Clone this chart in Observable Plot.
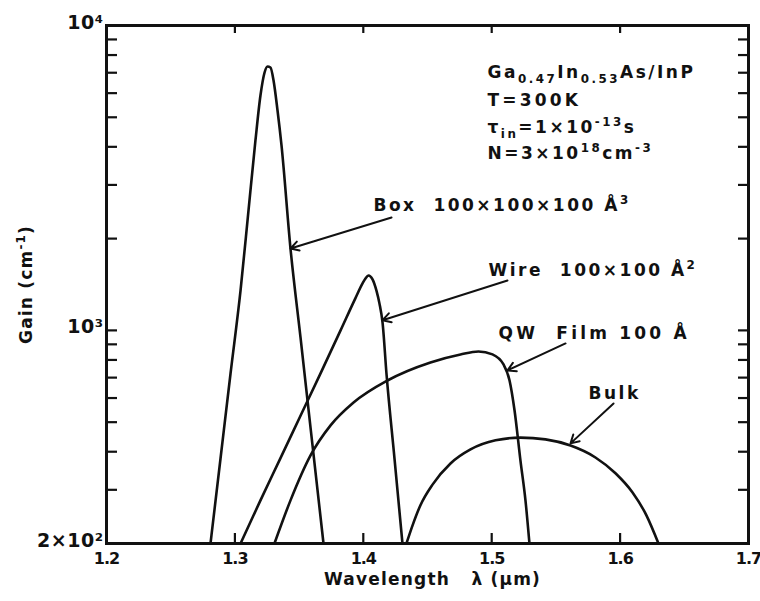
<!DOCTYPE html>
<html><head><meta charset="utf-8">
<script src="https://cdn.jsdelivr.net/npm/d3@7"></script>
<script src="https://cdn.jsdelivr.net/npm/@observablehq/plot@0.6"></script>
<style>
html,body{margin:0;padding:0;background:#fff;}
</style></head><body><div id="chart"></div>
<script>
// ---- data (wavelength in µm, gain in cm^-1) ----
const boxX  = [1.2810, 1.2888, 1.2966, 1.3044, 1.3106, 1.3160, 1.3199, 1.3231, 1.3254, 1.3277, 1.3301, 1.3332, 1.3363, 1.3433, 1.3511, 1.3589, 1.3690];
const boxY  = [200, 380, 722, 1352, 2474, 4196, 5895, 7013, 7337, 7282, 6601, 5262, 4041, 1856, 948, 480, 200];
const wireX = [1.3044, 1.3199, 1.3355, 1.3511, 1.3667, 1.3822, 1.3939, 1.3994, 1.4017, 1.4040, 1.4072, 1.4103, 1.4126, 1.4150, 1.4181, 1.4243, 1.4305];
const wireY = [200, 277, 381, 525, 723, 998, 1276, 1426, 1480, 1514, 1470, 1347, 1224, 1060, 717, 380, 200];
const qwX   = [1.3308, 1.3433, 1.3589, 1.3745, 1.3924, 1.4188, 1.4523, 1.4757, 1.4897, 1.5006, 1.5092, 1.5139, 1.5178, 1.5224, 1.5263, 1.5294];
const qwY   = [200, 277, 389, 488, 580, 685, 785, 834, 853, 834, 773, 685, 546, 374, 277, 200];
const bulkX = [1.4336, 1.4383, 1.4445, 1.4539, 1.4679, 1.4835, 1.5030, 1.5224, 1.5419, 1.5614, 1.5808, 1.5964, 1.6097, 1.6206, 1.6299];
const bulkY = [200, 229, 267, 312, 366, 407, 436, 445, 439, 419, 383, 340, 294, 247, 200];

const xTicks = [1.2, 1.3, 1.4, 1.5, 1.6, 1.7];
const xTickLabels = ["1.2", "1.3", "1.4", "1.5", "1.6", "1.7"];
const yMinorTicks = [300, 400, 500, 600, 700, 800, 900, 1000, 2000, 3000, 4000, 5000, 6000, 7000, 8000, 9000];
const yLabelTicks = [200, 1000, 10000];
const yTickLabels = ["2×10²", "10³", "10⁴"];

const xTitle = "Wavelength   λ (μm)";
const yTitle = "Gain (cm^{-1})";

// annotation labels and their anchor points (data space)
const annLabels = ["Box  100×100×100 Å^{3}", "Wire  100×100 Å^{2}", "QW  Film 100 Å", "Bulk"];
const annTextX = [1.4079, 1.4975, 1.5053, 1.5754];
const annTextY = [2568, 1572, 977, 621];
const arrowFromX = [1.4220, 1.5123, 1.5575, 1.5949];
const arrowFromY = [2346, 1458, 906, 576];
const arrowToX = [1.3433, 1.4150, 1.5123, 1.5614];
const arrowToY = [1856, 1080, 739, 426];

const infoLines = ["Ga_{0.47}In_{0.53}As/InP", "T=300K", "τ_{in}=1×10^{-13}s", "N=3×10^{18}cm^{-3}"];
const infoX = 1.4967;
const infoY = [7012, 5675, 4630, 3802];

// ---- build table ----
const series = [
  {name: "Box", xs: boxX, ys: boxY},
  {name: "Wire", xs: wireX, ys: wireY},
  {name: "QW Film", xs: qwX, ys: qwY},
  {name: "Bulk", xs: bulkX, ys: bulkY}
];
const rows = series.flatMap(s => s.xs.map((x, i) => ({series: s.name, wl: x, gain: s.ys[i]})));
const idx4 = d3.range(annLabels.length);
const idxInfo = d3.range(infoLines.length);

const ink = "#111";
const chart = Plot.plot({
  width: 760, height: 601,
  marginLeft: 106, marginRight: 12, marginTop: 25, marginBottom: 58,
  style: {fontFamily: "DejaVu Sans", background: "#fff", color: ink, overflow: "visible"},
  x: {domain: [1.2, 1.7], label: null},
  y: {type: "log", domain: [200, 10000], label: null},
  marks: [
    Plot.line(rows, {x: "wl", y: "gain", z: "series", stroke: ink, strokeWidth: 2.6, curve: "monotone-x"}),
    // inward ticks
    Plot.axisX(xTicks.slice(1, -1), {anchor: "bottom", tickSize: -10, strokeWidth: 2.2, tickFormat: () => "", label: null}),
    Plot.axisX(xTicks.slice(1, -1), {anchor: "top", tickSize: -7, strokeWidth: 2.2, tickFormat: () => "", label: null}),
    Plot.axisY(yMinorTicks, {anchor: "left", tickSize: -11, strokeWidth: 2.2, tickFormat: () => "", label: null}),
    Plot.axisY(yMinorTicks, {anchor: "right", tickSize: -11, strokeWidth: 2.2, tickFormat: () => "", label: null}),
    // tick labels
    Plot.axisX(xTicks, {anchor: "bottom", tickSize: 0, tickPadding: 9, fontSize: 16, fontWeight: "bold",
      tickFormat: (d) => xTickLabels[xTicks.indexOf(d)], label: null}),
    Plot.axisY(yLabelTicks, {anchor: "left", tickSize: 0, tickPadding: 3, dy: -3, fontSize: 19, fontWeight: "bold",
      tickFormat: (d) => yTickLabels[yLabelTicks.indexOf(d)], label: null}),
    Plot.frame({stroke: ink, strokeWidth: 3}),
    // titles
    Plot.text([xTitle], {frameAnchor: "bottom", lineAnchor: "middle", textAnchor: "middle", dy: 36, dx: 5, fontSize: 17, fontWeight: "bold"}),
    Plot.text([yTitle], {frameAnchor: "left", textAnchor: "middle", lineAnchor: "middle", dx: -80, rotate: -90, fontSize: 17, fontWeight: "bold"}),
    // annotations
    Plot.arrow(idx4, {x1: i => arrowFromX[i], y1: i => arrowFromY[i], x2: i => arrowToX[i], y2: i => arrowToY[i],
      stroke: ink, strokeWidth: 2, headLength: 7}),
    Plot.text(idx4, {x: i => annTextX[i], y: i => annTextY[i], text: i => annLabels[i], textAnchor: "start",
      lineAnchor: "middle", fontSize: 17, fontWeight: "bold", fill: ink}),
    Plot.text(idxInfo, {x: infoX, y: i => infoY[i], text: i => infoLines[i], textAnchor: "start",
      lineAnchor: "middle", fontSize: 17, fontWeight: "bold", fill: ink})
  ]
});

// letter spacing by content (before rich text conversion)
chart.querySelectorAll("text").forEach(t => {
  const s = t.textContent;
  if (annLabels.includes(s) || infoLines.includes(s)) t.setAttribute("letter-spacing", s === "QW  Film 100 Å" || s === "T=300K" ? "3.2px" : "2.5px");
  else if (s === xTitle || s === yTitle) t.setAttribute("letter-spacing", "1.2px");
  else if (xTickLabels.includes(s)) t.setAttribute("letter-spacing", "-1px");
  else if (yTickLabels.includes(s)) t.setAttribute("letter-spacing", "0.5px");
});

// rich text: _{..} subscript, ^{..} superscript
function richify(root) {
  root.querySelectorAll("text").forEach(t => {
    const s = t.textContent;
    if (!/[_^]\{/.test(s)) return;
    while (t.firstChild) t.removeChild(t.firstChild);
    const re = /([_^])\{([^}]*)\}|([^_^]+)/g;
    let m, shift = 0;
    while ((m = re.exec(s))) {
      const ts = document.createElementNS("http://www.w3.org/2000/svg", "tspan");
      if (m[3] !== undefined) {
        ts.textContent = m[3];
        if (shift) { ts.setAttribute("dy", -shift); shift = 0; }
      } else {
        ts.textContent = m[2];
        ts.setAttribute("font-size", "70%");
        const d = m[1] === "^" ? -7 : 5;
        ts.setAttribute("dy", d - shift);
        shift = d;
      }
      t.appendChild(ts);
    }
  });
}
richify(chart);
document.getElementById("chart").appendChild(chart);
</script>
</body></html>
